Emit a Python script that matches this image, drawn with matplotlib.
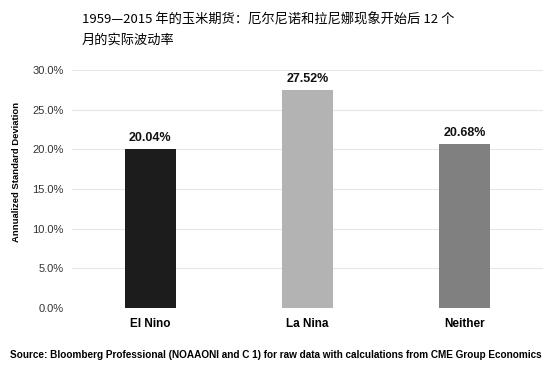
import matplotlib
matplotlib.use("Agg")
import matplotlib.pyplot as plt
from matplotlib.ticker import PercentFormatter

categories = ["El Nino", "La Nina", "Neither"]
volatility = [20.04, 27.52, 20.68]
bar_colors = ["#1c1c1c", "#b3b3b3", "#808080"]
yticks = [0, 5, 10, 15, 20, 25, 30]

title = "1959—2015 年的玉米期货：厄尔尼诺和拉尼娜现象开始后 12 个\n月的实际波动率"
ylabel = "Annualized Standard Deviation"
source = "Source: Bloomberg Professional (NOAAONI and C 1) for raw data with calculations from CME Group Economics"

plt.rcParams["font.family"] = ["Liberation Sans", "DejaVu Sans"]

fig = plt.figure(figsize=(5.53, 3.71), dpi=100)
ax = fig.add_axes([0.130, 0.170, 0.852, 0.641])

x = range(len(categories))
bars = ax.bar(x, volatility, width=0.32, color=bar_colors, zorder=2)
for b, v in zip(bars, volatility):
    ax.text(b.get_x() + b.get_width() / 2, v + 0.6, f"{v:.2f}%",
            ha="center", va="bottom", fontsize=9, fontweight="bold", color="#111111")

ax.set_xlim(-0.5, 2.5)
ax.set_ylim(0, 30)
ax.set_yticks(yticks)
ax.yaxis.set_major_formatter(PercentFormatter(decimals=1))
ax.set_xticks(list(x))
ax.set_xticklabels(categories, fontsize=8.5, fontweight="bold")
ax.tick_params(axis="y", labelsize=8, colors="#333333", length=0, pad=6)
ax.tick_params(axis="x", length=0, pad=7)
ax.grid(axis="y", color="#e6e6e6", linewidth=0.8, zorder=0)
for s in ax.spines.values():
    s.set_visible(False)

ax.set_ylabel(ylabel, fontsize=6.8, fontweight="bold")
# label sits a bit above the axis middle in the original
ax.yaxis.set_label_coords(-0.108, 0.57)

fig.text(0.148, 0.965, title, fontsize=9.5, va="top", ha="left", linespacing=1.75,
         family=["Noto Sans CJK SC", "DejaVu Sans"])
fig.text(0.018, 0.043, source, fontsize=7.2, fontweight="bold", ha="left", va="center")

fig.savefig("out.png", dpi=100)
